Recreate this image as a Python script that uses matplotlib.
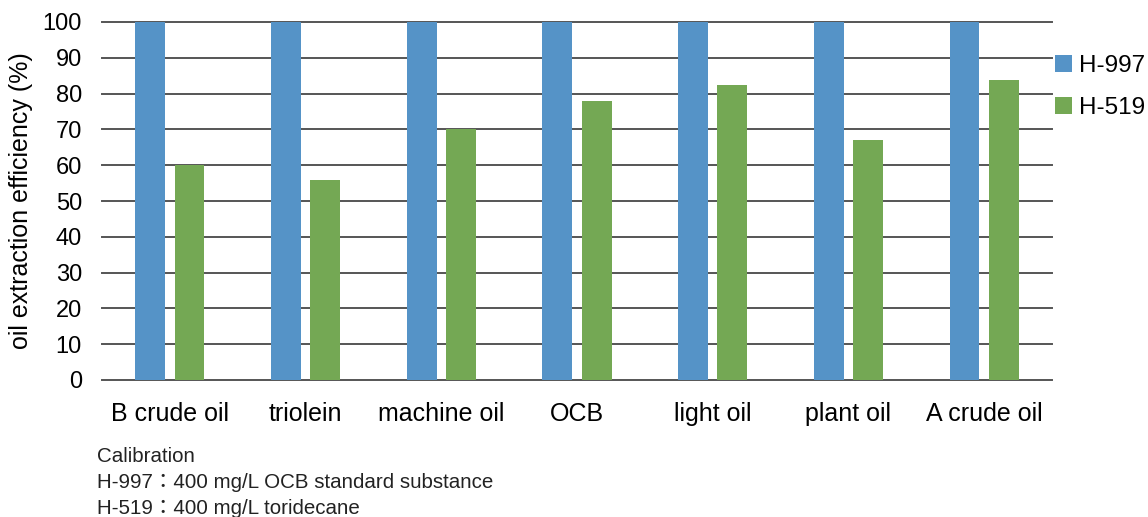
import matplotlib.pyplot as plt
import numpy as np

plt.rcParams['font.family'] = ['Liberation Sans', 'DejaVu Sans']

categories = ["B crude oil", "triolein", "machine oil", "OCB", "light oil", "plant oil", "A crude oil"]
h997 = [100, 100, 100, 100, 100, 100, 100]
h519 = [60, 56, 70, 78, 82.4, 67, 83.8]
series_names = ["H-997", "H-519"]
yticks = [0, 10, 20, 30, 40, 50, 60, 70, 80, 90, 100]
notes = ["Calibration",
         "H-997\uff1a400 mg/L OCB standard substance",
         "H-519\uff1a400 mg/L toridecane"]

blue = "#5593c7"
green = "#74a854"

W, H = 1148, 517
fig = plt.figure(figsize=(W / 100, H / 100), dpi=100)
ax = fig.add_axes([102 / W, 1 - 380 / H, (1052 - 102) / W, (380 - 22) / H])

x = np.arange(len(categories))
bw = 0.22
ax.bar(x - 0.145, h997, width=bw, color=blue, zorder=3, label=series_names[0])
ax.bar(x + 0.145, h519, width=bw, color=green, zorder=3, label=series_names[1])

ax.set_xlim(-0.5, len(categories) - 0.5)
ax.set_ylim(0, 100)
ax.set_yticks(yticks)
ax.set_xticks(x)
ax.set_xticklabels(categories, fontsize=18)
ax.tick_params(axis='x', length=0, pad=16)
ax.tick_params(axis='y', length=0, pad=14.5, labelsize=17)
for v in yticks:
    ax.axhline(v, color='#555555', lw=1.4, zorder=1, clip_on=False)
for s in ax.spines.values():
    s.set_visible(False)

ax.set_ylabel("oil extraction efficiency (%)", fontsize=18, labelpad=7)

fig.legend(loc='upper left', bbox_to_anchor=(1055 / W, 1 - 55 / H),
           bbox_transform=fig.transFigure, frameon=False,
           fontsize=17.5, handlelength=0.7, handleheight=0.7,
           handletextpad=0.3, labelspacing=0.83, borderpad=0,
           borderaxespad=0)

for i, t in enumerate(notes):
    fig.text(97 / W, 1 - (457 + i * 25.5) / H, t, fontsize=14.8,
             family=['Liberation Sans', 'Noto Sans CJK JP'],
             ha='left', va='center', color='#222222')

fig.savefig("out.png", dpi=100)
